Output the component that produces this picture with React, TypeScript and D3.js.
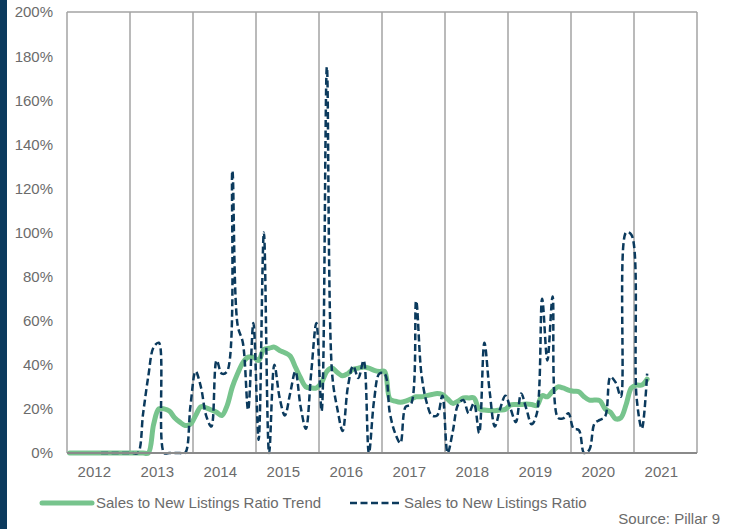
import React from "react";
import * as d3 from "d3";

const years = ["2012", "2013", "2014", "2015", "2016", "2017", "2018", "2019", "2020", "2021"];
const firstYear = 2012;

// Monthly values (percent), month index 0 = Jan 2012
const trend: number[] = [
  0, 0, 0, 0, 0, 0, 0, 0, 0, 0, 0, 0, 0, 0, 0, 0, 13, 20, 20, 19, 16, 14, 12.5, 13, 17,
  21, 20.5, 19.5, 18.5, 17, 21.5, 30, 36, 41, 43.5, 43.5, 42, 47, 47.5, 48, 46.5, 45.5, 44, 39,
  34, 30, 29.5, 29.5, 32, 37, 38.5, 36.5, 35, 36, 38, 38.5, 39, 38.5, 37.5, 37, 37, 24.5, 23.5,
  23, 23.5, 24.5, 25.5, 25.5, 26, 26.5, 27, 26.5, 24.5, 22.5, 23.5, 25, 25, 25, 20, 19.5, 19.3,
  19.2, 19.5, 19.8, 21.8, 22, 22, 22.2, 22, 21.5, 26, 25.5, 28, 30, 29.5, 28.5, 28, 27.8, 25.5,
  24, 24, 23.7, 20, 18.5, 15.5, 16, 22, 29.5, 30.8, 30.8, 33.5,
];

const ratio: (number | null)[] = [
  null, null, null, null, null, null, 0, 0, 0, 0, 0, 0, 0, 0, 18, 35, 48, 50, 0, 0, 0, 0, 0, 21,
  37, 30, 17, 12, 42, 36, 37, 128, 58, 50, 19.5, 59, 6, 100, 0, 40, 25, 17, 27, 37, 21, 11, 36,
  59, 19, 175, 36, 20, 10, 30, 39.5, 34, 42, 0, 24, 36, 36, 18, 9, 4.5, 21, 22, 69, 36, 23, 17,
  17, 26, 0, 10, 22, 24, 18, 22.5, 9, 50, 28, 12, 20, 26, 20, 14, 27, 20, 13, 18, 70, 42, 71,
  16, 15.7, 18, 11, 10.4, 0, 1.5, 13.5, 15, 16.5, 34.5, 32, 25.5, 100, 99, 25, 11, 36,
];

const yTicks = [0, 20, 40, 60, 80, 100, 120, 140, 160, 180, 200];
const legendLabels = ["Sales to New Listings Ratio Trend", "Sales to New Listings Ratio"];
const sourceText = "Source: Pillar 9";

const W = 737;
const H = 529;
const left = 67;
const right = 697;
const top = 12;
const bottom = 453;

const GREEN = "#77c48d";
const NAVY = "#0b3a5d";
const TEXT = "#6b6b6b";
const GRID = "#a3a3a3";
const FONT = "'Liberation Sans', Arial, sans-serif";

export default function App() {
  const x = d3.scaleLinear().domain([0, years.length * 12]).range([left, right]);
  const y = d3.scaleLinear().domain([0, 200]).range([bottom, top]);

  const trendLine = d3
    .line<number>()
    .x((_, i) => x(i + 0.5))
    .y((d) => y(d))
    .curve(d3.curveCatmullRom.alpha(0.5));

  const ratioLine = d3
    .line<number | null>()
    .defined((d) => d !== null)
    .x((_, i) => x(i + 0.5))
    .y((d) => y(d as number))
    .curve(d3.curveCatmullRom.alpha(0.5));

  const gridMonths = d3.range(0, years.length).map((i) => i * 12);

  return (
    <svg
      width={W}
      height={H}
      style={{ position: "absolute", left: 0, top: 0, background: "#fff" }}
      fontFamily={FONT}
    >
      <rect x={0} y={0} width={W} height={H} fill="#fff" />
      <rect x={0} y={0} width={7} height={H} fill={NAVY} />

      {/* vertical gridlines */}
      {gridMonths.map((m) => (
        <line key={m} x1={x(m)} x2={x(m)} y1={top} y2={bottom} stroke={GRID} strokeWidth={1.5} />
      ))}
      {/* top & right border */}
      <line x1={x(0)} x2={x(years.length * 12)} y1={top} y2={top} stroke={GRID} strokeWidth={1.5} />
      <line
        x1={x(years.length * 12)}
        x2={x(years.length * 12)}
        y1={top}
        y2={bottom}
        stroke={GRID}
        strokeWidth={1.5}
      />

      {/* y tick labels */}
      {yTicks.map((t) => (
        <text key={t} x={53} y={y(t)} dy="0.36em" textAnchor="end" fontSize={15} fill={TEXT}>
          {d3.format(".0%")(t / 100)}
        </text>
      ))}

      {/* x labels */}
      {years.map((yr) => (
        <text
          key={yr}
          x={x((+yr - firstYear) * 12 + 5.2)}
          y={477}
          textAnchor="middle"
          fontSize={15}
          fill={TEXT}
        >
          {yr}
        </text>
      ))}

      {/* series */}
      <path d={trendLine(trend) || ""} fill="none" stroke={GREEN} strokeWidth={5} strokeLinecap="round" strokeLinejoin="round" />
      <path
        d={ratioLine(ratio) || ""}
        fill="none"
        stroke={NAVY}
        strokeWidth={2.5}
        strokeDasharray="7,3.5"
        strokeLinejoin="round"
      />

      {/* bottom axis */}
      <line x1={x(0)} x2={x(years.length * 12)} y1={bottom} y2={bottom} stroke="#8a8a8a" strokeWidth={2} />

      {/* legend */}
      <line x1={42} x2={92} y1={503} y2={503} stroke={GREEN} strokeWidth={5} strokeLinecap="round" />
      <text x={96} y={508} fontSize={15} fill={TEXT}>
        {legendLabels[0]}
      </text>
      <line x1={350} x2={402} y1={503} y2={503} stroke={NAVY} strokeWidth={2.5} strokeDasharray="7,3.5" />
      <text x={404} y={508} fontSize={15} fill={TEXT}>
        {legendLabels[1]}
      </text>

      <text x={720} y={524} textAnchor="end" fontSize={15} fill={TEXT}>
        {sourceText}
      </text>
    </svg>
  );
}
